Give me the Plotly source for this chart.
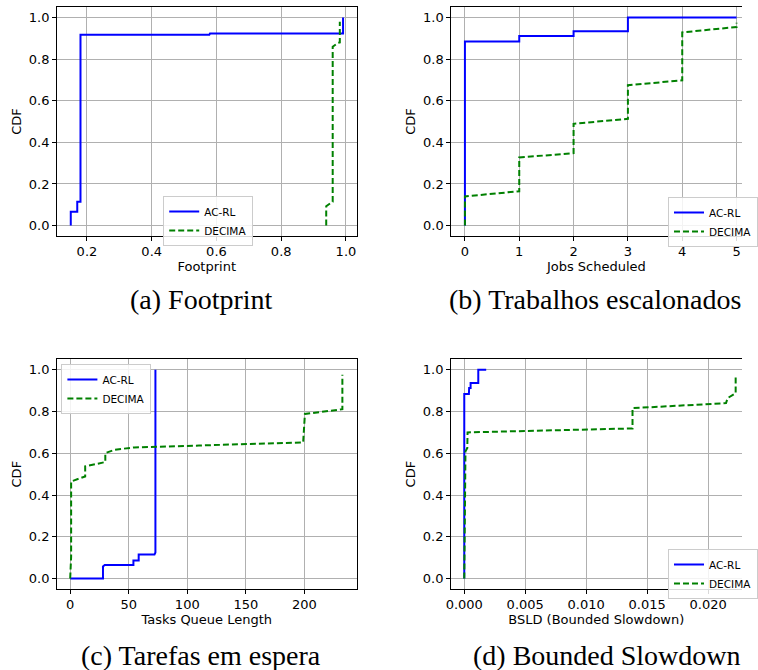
import plotly.graph_objects as go

W, H = 758, 670

# ---------------- data ----------------
# (a) Footprint
fp_acrl_x = [0.15, 0.15, 0.17, 0.17, 0.18, 0.18, 0.578, 0.58, 0.991, 0.991]
fp_acrl_y = [0.0, 0.067, 0.067, 0.115, 0.115, 0.917, 0.917, 0.923, 0.923, 1.0]
fp_dec_x = [0.939, 0.939, 0.959, 0.959, 0.976, 0.981, 0.981]
fp_dec_y = [0.0, 0.093, 0.115, 0.859, 0.878, 0.88, 0.979]

# (b) Jobs Scheduled
js_acrl_x = [0, 0, 1, 1, 2, 2, 3, 3, 5]
js_acrl_y = [0.0, 0.884, 0.884, 0.911, 0.911, 0.933, 0.933, 1.0, 1.0]
js_dec_x = [0, 0, 1, 1, 2, 2, 3, 3, 4, 4, 5, 5]
js_dec_y = [0.0, 0.14, 0.165, 0.327, 0.348, 0.489, 0.513, 0.674, 0.698, 0.928, 0.954, 0.974]

# (c) Tasks Queue Length
tq_acrl_x = [0, 28, 28, 29.5, 54, 54, 58.5, 58.5, 72, 72.8, 72.8]
tq_acrl_y = [0.0, 0.0, 0.058, 0.065, 0.065, 0.086, 0.086, 0.115, 0.115, 0.125, 1.0]
tq_dec_x = [0, 0.8, 0.8, 12.8, 12.8, 30, 30, 38, 54.7, 77, 110, 138, 199, 200.5, 232.5, 232.5]
tq_dec_y = [0.0, 0.105, 0.465, 0.489, 0.537, 0.558, 0.601, 0.617, 0.628, 0.633, 0.637,
            0.642, 0.652, 0.788, 0.811, 0.976]

# (d) BSLD
bs_acrl_x = [0, 0, 0.00038, 0.0004, 0.00052, 0.00052, 0.00115, 0.00115, 0.0018]
bs_acrl_y = [0.0, 0.884, 0.884, 0.912, 0.912, 0.936, 0.936, 1.0, 1.0]
bs_dec_x = [0, 0.00005, 0.0001, 0.00025, 0.00027, 0.0138, 0.0138, 0.02147, 0.0216, 0.02226, 0.02226]
bs_dec_y = [0.0, 0.53, 0.609, 0.625, 0.70, 0.719, 0.816, 0.840, 0.864, 0.888, 0.976]

series_names = ["AC-RL", "DECIMA"]
x_titles = ["Footprint", "Jobs Scheduled", "Tasks Queue Length", "BSLD (Bounded Slowdown)"]
captions = ["(a) Footprint", "(b) Trabalhos escalonados", "(c) Tarefas em espera", "(d) Bounded Slowdown"]
y_ticks = [0.0, 0.2, 0.4, 0.6, 0.8, 1.0]
x_ticks = [
    [0.2, 0.4, 0.6, 0.8, 1.0],
    [0, 1, 2, 3, 4, 5],
    [0, 50, 100, 150, 200],
    [0.0, 0.005, 0.010, 0.015, 0.020],
]

# ---------------- layout geometry ----------------
def px_x(p):
    return p / W

def px_y(p):
    return 1 - p / H

panels = [
    dict(dx=[px_x(53), px_x(362)], dy=[px_y(236), px_y(7)], xr=[0.106, 1.034], fmt=".1f", clip=False),
    dict(dx=[px_x(458.5), 1.0], dy=[px_y(236), px_y(7)], xr=[-0.26, 5.10], fmt="d", clip=True),
    dict(dx=[px_x(53), px_x(362)], dy=[px_y(589), px_y(359.3)], xr=[-11.67, 244.97], fmt="d", clip=False),
    dict(dx=[px_x(458.3), 1.0], dy=[px_y(589), px_y(359.3)], xr=[-0.00112, 0.02278], fmt=".3f", clip=True),
]

data = [
    (fp_acrl_x, fp_acrl_y, fp_dec_x, fp_dec_y),
    (js_acrl_x, js_acrl_y, js_dec_x, js_dec_y),
    (tq_acrl_x, tq_acrl_y, tq_dec_x, tq_dec_y),
    (bs_acrl_x, bs_acrl_y, bs_dec_x, bs_dec_y),
]

BLUE = "#0000ff"
GREEN = "#008000"
FONT = "DejaVu Sans"

fig = go.Figure()
layout = dict(
    width=W, height=H,
    margin=dict(l=0, r=0, t=0, b=0),
    paper_bgcolor="white", plot_bgcolor="white",
    showlegend=True,
    font=dict(family=FONT, size=13, color="black"),
)

legend_pos = [
    dict(x=px_x(209), y=px_y(196), xanchor="center", yanchor="top"),
    dict(x=px_x(682), y=px_y(197), xanchor="left", yanchor="top"),
    dict(x=px_x(58), y=px_y(364), xanchor="left", yanchor="top"),
    dict(x=px_x(682), y=px_y(549), xanchor="left", yanchor="top"),
]

for i, (p, d) in enumerate(zip(panels, data)):
    n = "" if i == 0 else str(i + 1)
    xa, ya = "x" + n, "y" + n
    leg = "legend" + n
    ax_x, ay_y, dec_x, dec_y = d
    fig.add_trace(go.Scatter(x=ax_x, y=ay_y, mode="lines", name=series_names[0],
                             line=dict(color=BLUE, width=2), xaxis=xa, yaxis=ya, legend=leg))
    fig.add_trace(go.Scatter(x=dec_x, y=dec_y, mode="lines", name=series_names[1],
                             line=dict(color=GREEN, width=2, dash="6px,3px"),
                             xaxis=xa, yaxis=ya, legend=leg))
    layout["xaxis" + n] = dict(
        domain=p["dx"], anchor=ya, range=p["xr"],
        tickvals=x_ticks[i], tickformat=p["fmt"],
        showgrid=True, gridcolor="#b0b0b0", gridwidth=0.8, zeroline=False,
        showline=True, linecolor="black", linewidth=1, mirror=True,
        ticks="outside", ticklen=3.5, tickwidth=0.8, tickcolor="black",
        tickfont=dict(family=FONT, size=13, color="black"),
        title=dict(text=x_titles[i], font=dict(family=FONT, size=13, color="black"), standoff=3),
    )
    layout["yaxis" + n] = dict(
        domain=p["dy"], anchor=xa, range=[-0.05, 1.05],
        tickvals=y_ticks, tickformat=".1f",
        showgrid=True, gridcolor="#b0b0b0", gridwidth=0.8, zeroline=False,
        showline=True, linecolor="black", linewidth=1, mirror=not p["clip"],
        ticks="outside", ticklen=3.5, tickwidth=0.8, tickcolor="black",
        tickfont=dict(family=FONT, size=13, color="black"),
        title=dict(text="CDF", font=dict(family=FONT, size=13, color="black"), standoff=4),
    )
    layout[leg] = dict(
        **legend_pos[i],
        bgcolor="rgba(255,255,255,0.85)", bordercolor="#cccccc", borderwidth=1,
        font=dict(family=FONT, size=10.5, color="black"),
        itemwidth=30, tracegroupgap=0,
    )

cap_pos = [(202, 299), (607, 299), (202, 655), (619, 655)]
annotations = []
for (cx, cy), txt in zip(cap_pos, captions):
    annotations.append(dict(
        text=txt, x=px_x(cx), y=px_y(cy), xref="paper", yref="paper",
        xanchor="center", yanchor="middle", showarrow=False,
        font=dict(family="Liberation Serif", size=28, color="black"),
    ))
layout["annotations"] = annotations

fig.update_layout(**layout)
fig.write_html("out.html",
               config={"displayModeBar": False},
               post_script="document.body.style.margin='0';document.body.style.overflow='hidden';")
